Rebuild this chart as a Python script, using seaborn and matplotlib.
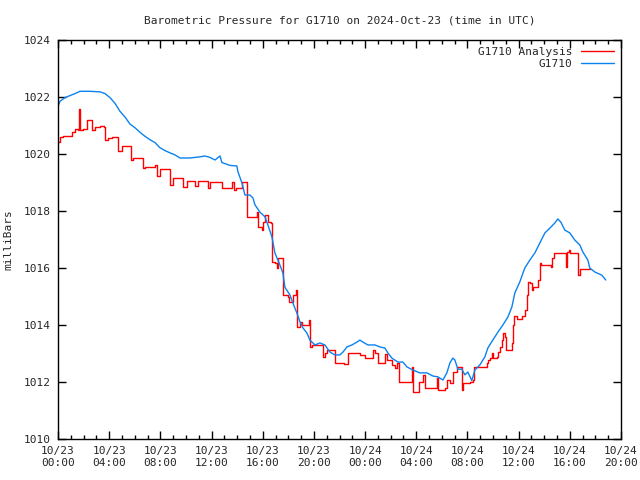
import pandas as pd
import numpy as np
import matplotlib
matplotlib.use('Agg')
import matplotlib.pyplot as plt
import matplotlib.dates as mdates
import seaborn as sns

# hours after 2024-10-23 00:00 UTC, pressure in mb
station_hours = [0, 0.16, 0.55, 0.94, 1.33, 1.72, 2.5, 3.28, 3.67, 4.06, 4.45, 4.84, 5.23, 5.63,
                 6.02, 6.41, 6.8, 7.19, 7.58, 7.97, 8.36, 8.75, 9.14, 9.53, 10.31, 11.09, 11.48,
                 11.88, 12.27, 12.66, 12.81, 13.44, 13.98, 14.06, 14.38, 14.61, 15.0, 15.23, 15.39,
                 15.78, 16.17, 16.41, 16.72, 16.95, 17.34, 17.58, 17.73, 18.13, 18.36, 18.67, 18.91,
                 19.14, 19.45, 19.69, 20.08, 20.47, 20.86, 21.25, 21.64, 22.03, 22.27, 22.58, 22.97,
                 23.36, 23.59, 23.83, 24.22, 24.77, 25.16, 25.55, 25.78, 26.09, 26.56, 26.95, 27.27,
                 27.73, 28.28, 28.83, 29.3, 29.69, 30.08, 30.39, 30.63, 30.86, 31.02, 31.25, 31.56,
                 31.8, 32.03, 32.34, 32.58, 32.97, 33.36, 33.59, 33.98, 34.38, 34.77, 35.16, 35.47,
                 35.7, 36.09, 36.48, 36.88, 37.27, 37.66, 38.05, 38.44, 38.83, 39.06, 39.3, 39.61,
                 40.0, 40.39, 40.78, 41.02, 41.41, 41.56, 41.95, 42.5, 42.81]
station_mb = [1021.68, 1021.85, 1021.98, 1022.05, 1022.12, 1022.2, 1022.2, 1022.18, 1022.12, 1021.98,
              1021.78, 1021.5, 1021.3, 1021.05, 1020.92, 1020.76, 1020.62, 1020.5, 1020.4, 1020.22,
              1020.12, 1020.04, 1019.97, 1019.86, 1019.86, 1019.9, 1019.93, 1019.88, 1019.79, 1019.93,
              1019.7, 1019.6, 1019.58, 1019.38, 1018.98, 1018.56, 1018.56, 1018.46, 1018.22, 1017.96,
              1017.8, 1017.5, 1017.09, 1016.53, 1016.11, 1015.82, 1015.33, 1015.05, 1014.77, 1014.42,
              1014.11, 1013.9, 1013.72, 1013.47, 1013.3, 1013.37, 1013.3, 1013.05, 1012.95, 1012.95,
              1013.05, 1013.23, 1013.3, 1013.4, 1013.47, 1013.4, 1013.3, 1013.3, 1013.23, 1013.19,
              1013.02, 1012.84, 1012.7, 1012.7, 1012.53, 1012.42, 1012.32, 1012.32, 1012.21, 1012.18,
              1012.07, 1012.32, 1012.67, 1012.84, 1012.77, 1012.45, 1012.45, 1012.25, 1012.35, 1012.05,
              1012.42, 1012.6, 1012.88, 1013.19, 1013.47, 1013.75, 1014.0, 1014.28, 1014.63, 1015.12,
              1015.51, 1016.0, 1016.28, 1016.53, 1016.88, 1017.23, 1017.4, 1017.58, 1017.72, 1017.61,
              1017.33, 1017.23, 1016.98, 1016.81, 1016.56, 1016.28, 1016.0, 1015.86, 1015.75, 1015.58]

analysis_hours = [0, 0.16, 0.39, 1.09, 1.33, 1.56, 1.64, 1.72, 1.95, 2.27, 2.66, 2.89, 3.28, 3.59,
                  3.67, 3.91, 4.22, 4.69, 5.0, 5.7, 5.86, 6.64, 6.8, 7.58, 7.73, 7.97, 8.75, 8.98,
                  9.77, 10.08, 10.7, 10.94, 11.72, 11.88, 12.81, 13.59, 13.75, 13.91, 14.38, 14.77,
                  15.55, 15.63, 15.94, 16.02, 16.17, 16.41, 16.64, 16.72, 16.95, 17.11, 17.19, 17.58,
                  17.97, 18.05, 18.36, 18.59, 18.67, 18.91, 19.06, 19.61, 19.69, 19.84, 20.7, 20.86,
                  21.02, 21.64, 22.34, 22.66, 23.59, 23.98, 24.61, 24.77, 25.0, 25.55, 25.7, 26.09,
                  26.33, 26.48, 26.64, 27.66, 27.73, 28.2, 28.52, 28.67, 29.61, 29.69, 30.23, 30.39,
                  30.63, 30.86, 31.17, 31.56, 31.64, 32.19, 32.42, 32.5, 33.52, 33.59, 33.75, 33.91,
                  33.98, 34.3, 34.38, 34.53, 34.69, 34.77, 34.92, 35.0, 35.47, 35.55, 35.63, 35.86,
                  36.25, 36.48, 36.64, 36.72, 36.88, 37.03, 37.11, 37.5, 37.66, 37.73, 38.52, 38.59,
                  38.75, 39.69, 39.77, 39.92, 40.0, 40.63, 40.78, 41.56]
analysis_mb = [1020.42, 1020.6, 1020.63, 1020.77, 1020.88, 1020.84, 1021.58, 1020.84, 1020.88, 1021.19,
               1020.84, 1020.95, 1020.98, 1020.95, 1020.49, 1020.56, 1020.6, 1020.11, 1020.28, 1019.79,
               1019.86, 1019.51, 1019.54, 1019.61, 1019.23, 1019.47, 1018.91, 1019.16, 1018.84, 1019.05,
               1018.88, 1019.05, 1018.81, 1019.02, 1018.81, 1019.02, 1018.74, 1018.81, 1019.02, 1017.79,
               1017.96, 1017.44, 1017.33, 1017.61, 1017.86, 1017.61, 1017.58, 1016.21, 1016.18, 1016.0,
               1016.35, 1015.05, 1014.98, 1014.81, 1015.05, 1015.23, 1013.93, 1014.11, 1014.0, 1014.18,
               1013.23, 1013.3, 1012.88, 1013.02, 1013.12, 1012.67, 1012.63, 1013.02, 1012.95, 1012.84,
               1013.12, 1013.02, 1012.67, 1012.98, 1012.77, 1012.6, 1012.49, 1012.67, 1012.0, 1012.53,
               1011.65, 1012.0, 1012.25, 1011.79, 1012.14, 1011.72, 1011.79, 1012.07, 1011.96, 1012.35,
               1012.53, 1011.72, 1011.96, 1012.0, 1012.07, 1012.53, 1012.67, 1012.77, 1012.84, 1013.02,
               1012.84, 1012.88, 1013.05, 1013.23, 1013.47, 1013.72, 1013.58, 1013.12, 1013.37, 1014.0,
               1014.32, 1014.21, 1014.32, 1014.53, 1015.05, 1015.51, 1015.47, 1015.23, 1015.33, 1015.58,
               1016.18, 1016.11, 1016.04, 1016.35, 1016.53, 1016.04, 1016.56, 1016.63, 1016.53, 1015.75,
               1015.96, 1015.96]

start = pd.Timestamp('2024-10-23 00:00')
station = pd.DataFrame({'time': start + pd.to_timedelta(station_hours, unit='h'), 'mb': station_mb})
analysis = pd.DataFrame({'time': start + pd.to_timedelta(analysis_hours, unit='h'), 'mb': analysis_mb})

sns.set_style('ticks')
plt.rcParams['font.family'] = ['DejaVu Sans Mono']
plt.rcParams['font.size'] = 8

fig = plt.figure(figsize=(6.4, 4.8), dpi=100)
ax = fig.add_axes([58/640, 1 - 439/480, 563/640, 399/480])

sns.lineplot(data=analysis, x='time', y='mb', ax=ax, color='#ff0000', lw=1,
             drawstyle='steps-post', label='G1710 Analysis')
sns.lineplot(data=station, x='time', y='mb', ax=ax, color='#0a82f0', lw=1, label='G1710')

ax.set_xlim(start, start + pd.Timedelta(hours=44))
ax.set_ylim(1010, 1024)
ax.set_yticks(np.arange(1010, 1025, 2))
ax.xaxis.set_major_locator(mdates.HourLocator(byhour=[0, 4, 8, 12, 16, 20]))
ax.xaxis.set_minor_locator(mdates.HourLocator())
ax.xaxis.set_major_formatter(mdates.DateFormatter('%m/%d\n%H:%M'))
ax.tick_params(which='both', direction='in', top=True, right=True, width=1, color='black',
               labelsize=8, pad=5)
ax.tick_params(which='major', length=6)
ax.tick_params(which='minor', length=3)
for s in ax.spines.values():
    s.set_linewidth(1)
    s.set_color('black')

ax.set_xlabel('')
ax.set_ylabel('milliBars', fontsize=8, labelpad=8)
ax.set_title('Barometric Pressure for G1710 on 2024-Oct-23 (time in UTC)', fontsize=8, pad=12)

ax.legend(loc='upper right', frameon=False, markerfirst=False, fontsize=8,
          handlelength=3, borderaxespad=0.2, labelspacing=0.2)

fig.savefig('out.png', dpi=100)
